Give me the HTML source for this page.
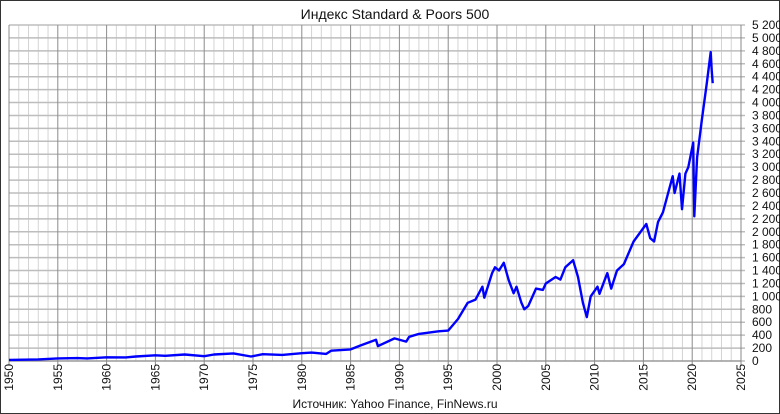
<!DOCTYPE html>
<html><head><meta charset="utf-8"><style>
body{margin:0;background:#fff}
svg{display:block;font-family:"Liberation Sans",sans-serif}
</style></head><body>
<svg id="chart" width="780" height="414" viewBox="0 0 780 414" xmlns="http://www.w3.org/2000/svg">
<rect x="0.5" y="0.5" width="779" height="413" fill="#fff" stroke="#333"/>
<text x="395" y="19" text-anchor="middle" font-size="14" fill="#111">Индекс Standard &amp; Poors 500</text>
<g id="grid"></g>
<g id="axes"></g>
<path id="line" fill="none" stroke="#0000ff" stroke-width="2.4" stroke-linejoin="round"/>
<text x="395" y="408" text-anchor="middle" font-size="12" fill="#111">Источник:  Yahoo Finance, FinNews.ru</text>
</svg>
<script>
const years = [1950,1953,1955,1957,1958,1960,1962,1963,1965,1966,1968,1970,1971,1973,1974.8,1976,1978,1980,1981,1982.5,1983,1985,1986,1987.6,1987.8,1989.5,1990.7,1991,1992,1994,1995,1996,1997,1997.8,1998.5,1998.7,1999.5,1999.8,2000.2,2000.7,2001.2,2001.7,2002,2002.5,2002.8,2003.2,2004,2004.7,2005,2006,2006.5,2007,2007.8,2008.3,2008.8,2009.2,2009.6,2010.3,2010.5,2011.3,2011.7,2012.3,2013,2014,2015.3,2015.7,2016.1,2016.5,2017,2018.0,2018.2,2018.7,2018.95,2019.3,2019.6,2020.1,2020.22,2020.5,2021,2021.5,2021.9,2022.0,2022.1];
const values = [17,25,40,45,40,58,56,70,88,80,100,75,100,118,70,105,95,120,130,110,160,180,240,330,230,350,300,375,420,460,470,650,900,950,1150,980,1360,1450,1400,1520,1250,1050,1150,900,800,850,1120,1100,1200,1300,1260,1450,1560,1300,900,680,1000,1150,1040,1360,1120,1400,1500,1850,2120,1900,1850,2150,2300,2860,2600,2900,2350,2900,3000,3380,2240,3150,3750,4300,4780,4500,4300];
const yTicks = [0,200,400,600,800,1000,1200,1400,1600,1800,2000,2200,2400,2600,2800,3000,3200,3400,3600,3800,4000,4200,4400,4600,4800,5000,5200];
const xTicks = [1950,1955,1960,1965,1970,1975,1980,1985,1990,1995,2000,2005,2010,2015,2020,2025];
const X0=9,X1=741,Y0=361,Y1=25;
const xs=y=>X0+(y-1950)/(2025-1950)*(X1-X0);
const ys=v=>Y0-v/5200*(Y0-Y1);
const NS='http://www.w3.org/2000/svg';
const grid=document.getElementById('grid'), axes=document.getElementById('axes');
function mk(tag,attrs,parent){const e=document.createElementNS(NS,tag);for(const k in attrs)e.setAttribute(k,attrs[k]);parent.appendChild(e);return e;}
for(let y=1951;y<2025;y++){if((y-1950)%5===0)continue;
 const l=mk('line',{x1:xs(y),x2:xs(y),y1:Y1,y2:Y0,stroke:'#d4d4d4','stroke-width':1},grid);
 
 }
yTicks.forEach(v=>{
 const l=mk('line',{x1:X0,x2:X1+4,y1:ys(v),y2:ys(v),stroke:'#bdbdbd','stroke-width':1.5},grid);
 
 
 const t=mk('text',{x:752,y:ys(v)+4,'font-size':12,fill:'#111'},axes);
 t.textContent=v.toLocaleString('ru-RU').replace(/\s/g,' ');
 
 
});
xTicks.forEach(y=>{
 const l=mk('line',{x1:xs(y),x2:xs(y),y1:Y1,y2:Y0+4,stroke:'#8c8c8c','stroke-width':1},grid);
 
 
 const t=mk('text',{x:0,y:0,'font-size':12,fill:'#111','text-anchor':'end',transform:`translate(${xs(y)+4},${Y0+3}) rotate(-90)`},axes);
 t.textContent=y;
 
 
});
const b=mk('line',{x1:X0,x2:X1,y1:Y0,y2:Y0,stroke:'#888','stroke-width':1},axes);


const r=mk('line',{x1:X1,x2:X1,y1:Y1,y2:Y0,stroke:'#888','stroke-width':1},axes);


document.getElementById('line').setAttribute('d',years.map((y,i)=>(i?'L':'M')+xs(y).toFixed(1)+','+ys(values[i]).toFixed(1)).join(''));
</script>
</body></html>
